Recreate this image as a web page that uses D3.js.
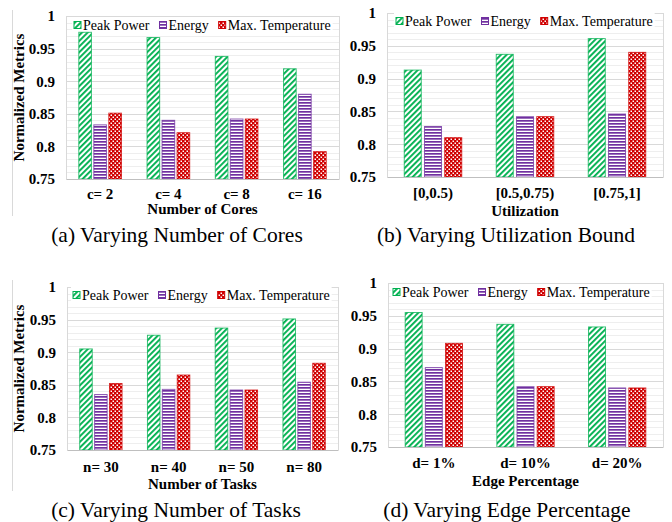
<!DOCTYPE html>
<html>
<head>
<meta charset="UTF-8">
<title>Normalized metrics</title>
<script src="https://cdn.jsdelivr.net/npm/d3@7"></script>
<style>
  body { margin: 0; background: #fff; }
  text { font-family: "Liberation Serif", "Times New Roman", serif; }
</style>
</head>
<body>
<script>
// series names
var seriesNames = ["Peak Power", "Energy", "Max. Temperature"];

// (a) number of cores
var coresCats   = ["c= 2", "c= 4", "c= 8", "c= 16"];
var coresPeak   = [0.975, 0.967, 0.938, 0.919];
var coresEnergy = [0.833, 0.840, 0.842, 0.880];
var coresTemp   = [0.851, 0.821, 0.842, 0.792];

// (b) utilization bound
var utilCats   = ["[0,0.5)", "[0.5,0.75)", "[0.75,1]"];
var utilPeak   = [0.913, 0.937, 0.961];
var utilEnergy = [0.827, 0.842, 0.846];
var utilTemp   = [0.810, 0.842, 0.940];

// (c) number of tasks
var tasksCats   = ["n= 30", "n= 40", "n= 50", "n= 80"];
var tasksPeak   = [0.905, 0.926, 0.937, 0.951];
var tasksEnergy = [0.835, 0.843, 0.842, 0.854];
var tasksTemp   = [0.852, 0.865, 0.842, 0.883];

// (d) edge percentage
var edgeCats   = ["d= 1%", "d= 10%", "d= 20%"];
var edgePeak   = [0.955, 0.937, 0.933];
var edgeEnergy = [0.871, 0.842, 0.840];
var edgeTemp   = [0.908, 0.842, 0.840];

// y axis ticks
var yTicks = [0.75, 0.8, 0.85, 0.9, 0.95, 1];
var yTickLabels = ["0.75", "0.8", "0.85", "0.9", "0.95", "1"];

var W = 672, H = 522;
var FONT = "Liberation Serif";
var svg = d3.select("body").append("svg").attr("width", W).attr("height", H);

// patterns
var defs = svg.append("defs");
var green = "#00b050", purple = "#7030a0", red = "#d00000";

var pg = defs.append("pattern").attr("id", "pat0").attr("patternUnits", "userSpaceOnUse")
  .attr("width", 4).attr("height", 4).attr("patternTransform", "rotate(45)");
pg.append("rect").attr("width", 4).attr("height", 4).attr("fill", "#fff");
pg.append("rect").attr("width", 1.9).attr("height", 4).attr("fill", green);

var pp = defs.append("pattern").attr("id", "pat1").attr("patternUnits", "userSpaceOnUse")
  .attr("width", 4).attr("height", 3);
pp.append("rect").attr("width", 4).attr("height", 3).attr("fill", "#fff");
pp.append("rect").attr("width", 4).attr("height", 1.7).attr("fill", purple);

var pr = defs.append("pattern").attr("id", "pat2").attr("patternUnits", "userSpaceOnUse")
  .attr("width", 4).attr("height", 4);
pr.append("rect").attr("width", 4).attr("height", 4).attr("fill", red);
pr.append("rect").attr("x", 0.5).attr("y", 0.5).attr("width", 1.5).attr("height", 1.5).attr("fill", "#fff");
pr.append("rect").attr("x", 2.5).attr("y", 2.5).attr("width", 1.5).attr("height", 1.5).attr("fill", "#fff");

var strokes = [green, purple, red];

var panels = [
  { cats: coresCats, vals: [coresPeak, coresEnergy, coresTemp], x0: 66, x1: 339, y0: 16, y1: 179,
    xTitle: "Number of Cores", caption: "(a) Varying Number of Cores", ylab: true,
    legX: 74, legY: 25, tickY: 199, titleY: 214, capX: 177, capY: 242, frame: [10, 216] },
  { cats: utilCats, vals: [utilPeak, utilEnergy, utilTemp], x0: 387, x1: 663, y0: 13, y1: 177,
    xTitle: "Utilization", caption: "(b) Varying Utilization Bound", ylab: false,
    legX: 396, legY: 21, tickY: 198, titleY: 216, capX: 506, capY: 242 },
  { cats: tasksCats, vals: [tasksPeak, tasksEnergy, tasksTemp], x0: 67, x1: 338, y0: 287, y1: 450,
    xTitle: "Number of Tasks", caption: "(c) Varying Number of Tasks", ylab: true,
    legX: 73, legY: 295, tickY: 472, titleY: 489, capX: 176, capY: 517, frame: [280, 491] },
  { cats: edgeCats, vals: [edgePeak, edgeEnergy, edgeTemp], x0: 388, x1: 663, y0: 283, y1: 447,
    xTitle: "Edge Percentage", caption: "(d) Varying Edge Percentage", ylab: false,
    legX: 393, legY: 292, tickY: 468, titleY: 486, capX: 507, capY: 517 }
];

panels.forEach(function (p) {
  var g = svg.append("g");
  var y = d3.scaleLinear().domain([0.75, 1]).range([p.y1, p.y0]);
  var x = d3.scaleBand().domain(p.cats).range([p.x0, p.x1]);

  if (p.frame) {
    g.append("line").attr("x1", 12.5).attr("x2", 12.5).attr("y1", p.frame[0]).attr("y2", p.frame[1])
      .attr("stroke", "#d9d9d9");
  }

  // minor grid
  g.append("g").selectAll("line").data(d3.range(76, 100).map(function (v) { return v / 100; }))
    .join("line")
    .attr("x1", p.x0).attr("x2", p.x1)
    .attr("y1", function (d) { return Math.round(y(d)) + 0.5; })
    .attr("y2", function (d) { return Math.round(y(d)) + 0.5; })
    .attr("stroke", "#eeeeee");
  // major grid
  g.append("g").selectAll("line").data(yTicks.slice(1))
    .join("line")
    .attr("x1", p.x0).attr("x2", p.x1)
    .attr("y1", function (d) { return Math.round(y(d)) + 0.5; })
    .attr("y2", function (d) { return Math.round(y(d)) + 0.5; })
    .attr("stroke", "#d9d9d9");
  // right border
  g.append("line").attr("x1", p.x1 + 0.5).attr("x2", p.x1 + 0.5).attr("y1", p.y0).attr("y2", p.y1)
    .attr("stroke", "#d9d9d9");

  // bars
  var bw = x.bandwidth() * 0.185, gap = x.bandwidth() * 0.035;
  p.vals.forEach(function (arr, s) {
    g.append("g").selectAll("rect").data(arr).join("rect")
      .attr("x", function (d, i) {
        return x(p.cats[i]) + x.bandwidth() / 2 - 1.5 * bw - gap + s * (bw + gap);
      })
      .attr("y", function (d) { return y(d); })
      .attr("width", bw)
      .attr("height", function (d) { return y(0.75) - y(d); })
      .attr("fill", "url(#pat" + s + ")")
      .attr("stroke", strokes[s]).attr("stroke-opacity", 0.75).attr("stroke-width", 1);
  });

  // y axis
  var ya = g.append("g").attr("transform", "translate(" + p.x0 + ",0)")
    .call(d3.axisLeft(y).tickValues(yTicks).tickSize(0).tickPadding(11)
      .tickFormat(function (d, i) { return yTickLabels[i]; }));
  ya.attr("font-family", FONT);
  ya.select(".domain").attr("stroke", "#d9d9d9");
  ya.selectAll("text").attr("font-size", 15).attr("font-weight", "bold").attr("fill", "#000")
    .attr("font-family", FONT);

  // x axis
  var xa = g.append("g").attr("transform", "translate(0," + p.y1 + ")")
    .call(d3.axisBottom(x).tickSize(0).tickPadding(0));
  xa.attr("font-family", FONT);
  xa.select(".domain").attr("stroke", "#bfbfbf");
  xa.selectAll("text").attr("font-size", 15).attr("font-weight", "bold").attr("fill", "#000")
    .attr("font-family", FONT)
    .attr("dy", null).attr("y", p.tickY - p.y1);

  g.append("text").attr("x", (p.x0 + p.x1) / 2).attr("y", p.titleY)
    .attr("text-anchor", "middle").attr("font-size", 15).attr("font-weight", "bold")
    .attr("font-family", FONT)
    .text(p.xTitle);

  if (p.ylab) {
    g.append("text").attr("transform", "translate(24," + (p.y0 + p.y1) / 2 + ") rotate(-90)")
      .attr("text-anchor", "middle").attr("font-size", 15).attr("font-weight", "bold")
      .attr("font-family", FONT)
      .text("Normalized Metrics");
  }

  // legend
  var leg = g.append("g");
  var bg = leg.append("rect").attr("fill", "#fff");
  var lx = p.legX;
  seriesNames.forEach(function (name, s) {
    leg.append("rect").attr("x", lx).attr("y", p.legY - 3.5).attr("width", 7).attr("height", 7)
      .attr("fill", "url(#pat" + s + ")").attr("stroke", strokes[s]).attr("stroke-width", 1);
    var t = leg.append("text").attr("x", lx + 9).attr("y", p.legY + 5)
      .attr("font-size", 14).attr("font-family", FONT).text(name);
    lx += 9 + t.node().getComputedTextLength() + 10;
  });
  bg.attr("x", p.legX - 2).attr("y", p.legY - 8).attr("width", lx - p.legX - 6).attr("height", 14);

  g.append("text").attr("x", p.capX).attr("y", p.capY)
    .attr("text-anchor", "middle").attr("font-size", 21.5).attr("font-family", FONT)
    .text(p.caption);
});
</script>
</body>
</html>
